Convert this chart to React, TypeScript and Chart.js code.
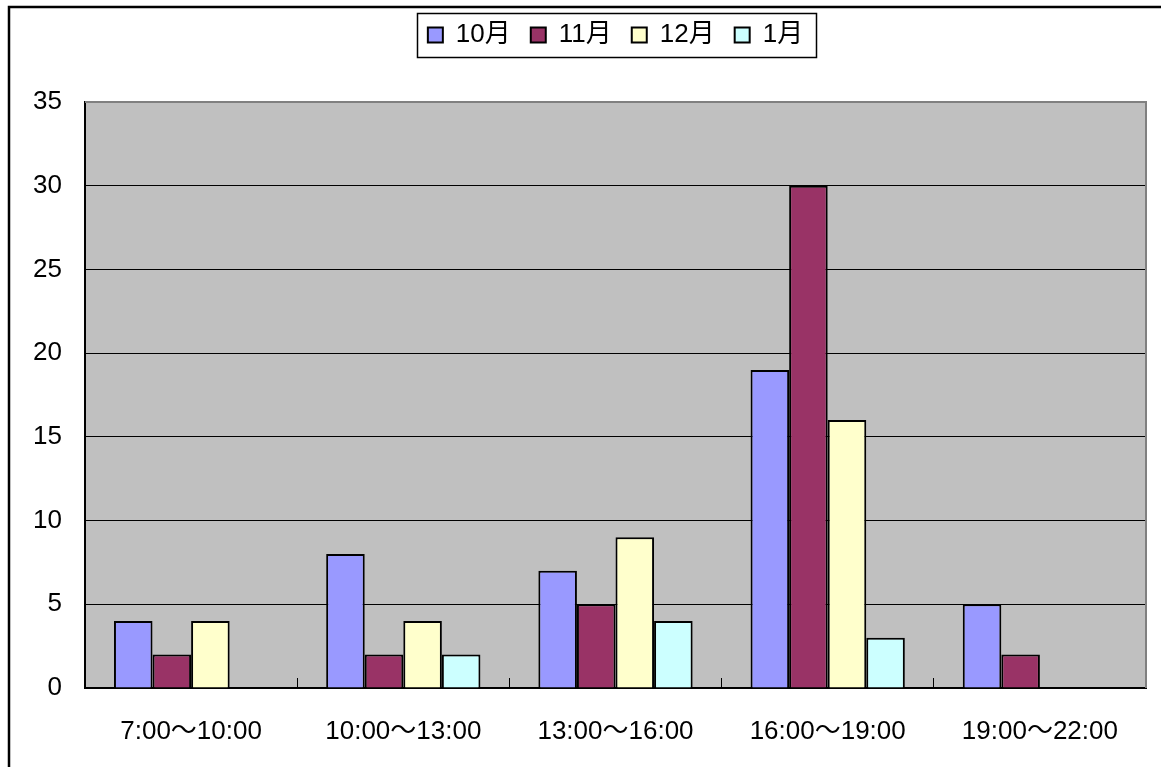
import React, { useEffect, useRef } from 'react';
import { Chart, registerables } from 'chart.js';

Chart.register(...registerables);

const categories = ['7:00～10:00', '10:00～13:00', '13:00～16:00', '16:00～19:00', '19:00～22:00'];
const seriesNames = ['10月', '11月', '12月', '1月'];
const octValues = [4, 8, 7, 19, 5];
const novValues = [2, 2, 5, 30, 2];
const decValues = [4, 4, 9, 16, null];
const janValues = [null, 2, 4, 3, null];
const seriesColors = ['#9999FF', '#993366', '#FFFFCC', '#CCFFFF'];
const yMin = 0;
const yMax = 35;
const yStep = 5;

const FONT = '"Liberation Sans", Arial, "Noto Sans CJK JP", sans-serif';
const LEGEND_EXTRA = 44;

function patchLegend(chart: any) {
  const lg = chart.legend;
  if (lg && !lg.__patched) {
    const orig = lg.fit;
    lg.fit = function () {
      orig.call(this);
      this.height += LEGEND_EXTRA;
    };
    lg.__patched = true;
  }
}

const framePlugin = {
  id: 'framePlugin',
  beforeInit(chart: any) {
    patchLegend(chart);
  },
  beforeUpdate(chart: any) {
    patchLegend(chart);
  },
  beforeDraw(chart: any) {
    const { ctx, chartArea } = chart;
    ctx.save();
    ctx.fillStyle = '#FFFFFF';
    ctx.fillRect(0, 0, chart.width, chart.height);
    ctx.fillStyle = '#C0C0C0';
    ctx.fillRect(chartArea.left, chartArea.top, chartArea.right - chartArea.left, chartArea.bottom - chartArea.top);
    ctx.restore();
  },
  afterDraw(chart: any) {
    const { ctx, chartArea } = chart;
    ctx.save();
    // outer chart frame
    ctx.strokeStyle = '#000000';
    ctx.lineWidth = 2.5;
    ctx.beginPath();
    ctx.moveTo(9, chart.height + 5);
    ctx.lineTo(9, 7);
    ctx.lineTo(chart.width + 5, 7);
    ctx.stroke();
    // plot area top/right border
    ctx.strokeStyle = '#808080';
    ctx.lineWidth = 2;
    ctx.beginPath();
    ctx.moveTo(chartArea.left, chartArea.top);
    ctx.lineTo(chartArea.right, chartArea.top);
    ctx.lineTo(chartArea.right, chartArea.bottom);
    ctx.stroke();
    // legend border
    const lg = chart.legend;
    if (lg && lg.legendHitBoxes && lg.legendHitBoxes.length) {
      let l = Infinity, t = Infinity, r = -Infinity, b = -Infinity;
      lg.legendHitBoxes.forEach((h: any) => {
        l = Math.min(l, h.left);
        t = Math.min(t, h.top);
        r = Math.max(r, h.left + h.width);
        b = Math.max(b, h.top + h.height);
      });
      ctx.strokeStyle = '#000000';
      ctx.lineWidth = 1.5;
      ctx.strokeRect(Math.round(l - 11) + 0.5, Math.round(t - 9) + 0.5, Math.round(r - l + 24), Math.round(b - t + 18));
    }
    ctx.restore();
  },
};

export default function App() {
  const ref = useRef<HTMLCanvasElement | null>(null);

  useEffect(() => {
    document.body.style.margin = '0';
    const canvas = ref.current;
    if (!canvas) return;
    const allValues = [octValues, novValues, decValues, janValues];
    const chart = new Chart(canvas, {
      type: 'bar',
      data: {
        labels: categories,
        datasets: seriesNames.map((name, i) => ({
          label: name,
          data: allValues[i],
          backgroundColor: seriesColors[i],
          borderColor: '#000000',
          borderWidth: 2,
          categoryPercentage: 0.727,
          barPercentage: 1.0,
        })),
      },
      options: {
        animation: false,
        responsive: false,
        devicePixelRatio: 1,
        layout: { padding: { top: 2, right: 15, left: 0, bottom: 0 } },
        plugins: {
          tooltip: { enabled: false },
          legend: {
            display: true,
            position: 'top',
            fullSize: false,
            labels: {
              boxWidth: 15,
              boxHeight: 15,
              padding: 20,
              color: '#000000',
              font: { family: FONT, size: 26 },
            },
          },
        },
        scales: {
          x: {
            grid: {
              display: true,
              offset: true,
              drawOnChartArea: false,
              drawTicks: true,
              tickLength: -10,
              color: '#000000',
              lineWidth: 1,
            },
            border: { display: true, color: '#000000', width: 2 },
            ticks: {
              color: '#000000',
              padding: 38,
              maxRotation: 0,
              autoSkip: false,
              font: { family: FONT, size: 26 },
            },
            afterFit(scale: any) {
              scale.height = 79;
            },
          },
          y: {
            min: yMin,
            max: yMax,
            ticks: {
              stepSize: yStep,
              color: '#000000',
              padding: 23,
              font: { family: FONT, size: 26 },
            },
            grid: {
              display: true,
              drawTicks: false,
              color: '#000000',
              lineWidth: 1,
            },
            border: { display: true, color: '#000000', width: 2 },
            afterFit(scale: any) {
              scale.width = 85;
            },
          },
        },
      },
      plugins: [framePlugin],
    } as any);
    return () => chart.destroy();
  }, []);

  return (
    <div style={{ position: 'absolute', left: 0, top: 0, width: 1161, height: 767 }}>
      <canvas ref={ref} width={1161} height={767} style={{ width: 1161, height: 767, display: 'block' }} />
    </div>
  );
}
